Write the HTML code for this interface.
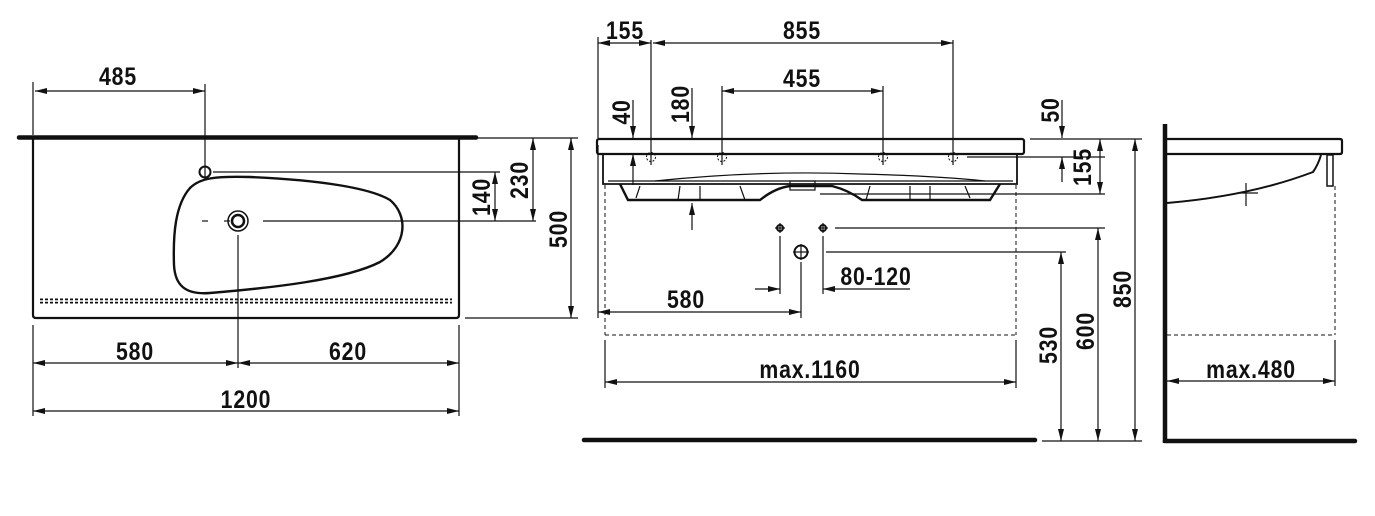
<!DOCTYPE html>
<html><head><meta charset="utf-8"><style>
html,body{margin:0;padding:0;background:#fff;}
svg{display:block;}
text{font-family:"Liberation Sans Narrow","Liberation Sans",sans-serif;font-weight:bold;font-size:25px;fill:#111;letter-spacing:1px;}
</style></head><body>
<svg width="1375" height="516" viewBox="0 0 1375 516" xmlns="http://www.w3.org/2000/svg">
<defs>
<marker id="a" viewBox="0 0 12 6" refX="12" refY="3" markerWidth="12" markerHeight="6" markerUnits="userSpaceOnUse" orient="auto-start-reverse"><path d="M0,0 L12,3 L0,6 z" fill="#111"/></marker>
</defs>
<g stroke="#111" fill="none" stroke-width="1.2">
<line x1="19" y1="137.5" x2="476" y2="137.5" stroke-width="4.5" stroke-linecap="round"/>
<path d="M33,139 V315 Q33,318 36,318 H456 Q459,318 459,315 V139" stroke-width="2.2"/>
<path d="M190,188 C200,178 215,176 250,177 C320,180 370,188 390,200 C408,215 408,245 380,262 C345,280 270,288 210,293 C185,295 175,285 174,265 C173,235 175,205 190,188 Z" stroke-width="2.4"/>
<circle cx="205" cy="172" r="5.5" stroke-width="2"/>
<circle cx="238" cy="221" r="10" stroke-width="1.5"/>
<circle cx="238" cy="221" r="6" stroke-width="2.5"/>
<path d="M40,301 H452" stroke-dasharray="3,2" stroke-width="5"/>
<path d="M40,301 H452" stroke="#fff" stroke-width="1.5"/>
<line x1="33" y1="82" x2="33" y2="135"/>
<line x1="205" y1="84" x2="205" y2="178"/>
<line x1="35" y1="91" x2="205" y2="91" marker-start="url(#a)" marker-end="url(#a)"/>
<line x1="213" y1="172" x2="500" y2="172"/>
<line x1="224" y1="221" x2="230" y2="221"/><line x1="202" y1="221" x2="208" y2="221"/>
<line x1="263" y1="221" x2="536" y2="221"/>
<line x1="238" y1="235" x2="238" y2="368"/>
<line x1="465" y1="138" x2="578" y2="138"/>
<line x1="465" y1="318" x2="578" y2="318"/>
<line x1="495" y1="172" x2="495" y2="221" marker-start="url(#a)" marker-end="url(#a)"/>
<line x1="533" y1="138" x2="533" y2="221" marker-start="url(#a)" marker-end="url(#a)"/>
<line x1="571" y1="138" x2="571" y2="318" marker-start="url(#a)" marker-end="url(#a)"/>
<line x1="33" y1="325" x2="33" y2="416"/>
<line x1="459" y1="325" x2="459" y2="416"/>
<line x1="33" y1="363" x2="238" y2="363" marker-start="url(#a)" marker-end="url(#a)"/>
<line x1="238" y1="363" x2="459" y2="363" marker-start="url(#a)" marker-end="url(#a)"/>
<line x1="33" y1="411" x2="459" y2="411" marker-start="url(#a)" marker-end="url(#a)"/>

<rect x="597" y="139" width="427" height="15" rx="2" stroke-width="2.2"/>
<path d="M603,154 V184 H1017 V154" stroke-width="1.8"/>
<line x1="608" y1="181" x2="1013" y2="181"/>
<path d="M620,184 L628,200 H760 Q775,188 790,186 L832,186 Q848,190 862,200 H990 L1000,184" stroke-width="2.4"/>
<path d="M655,181 Q760,170 860,174 Q940,176 985,181"/>
<path d="M640,186 L636,198 M680,186 L678,200 M700,186 L700,200 M740,186 L745,200 M870,186 L866,200 M910,186 L910,200 M930,186 L930,200 M965,186 L970,198"/>
<rect x="790" y="181" width="25" height="9"/>
<g stroke-width="1" stroke-dasharray="2,1.5">
<circle cx="651" cy="157" r="4.5"/><circle cx="722" cy="157" r="4.5"/><circle cx="883" cy="157" r="4.5"/><circle cx="953" cy="157" r="4.5"/>
</g>
<line x1="598" y1="37" x2="598" y2="138"/>
<line x1="651" y1="40" x2="651" y2="165"/>
<line x1="953" y1="40" x2="953" y2="165"/>
<line x1="722" y1="86" x2="722" y2="165"/>
<line x1="883" y1="86" x2="883" y2="165"/>
<line x1="598" y1="43" x2="651" y2="43" marker-start="url(#a)" marker-end="url(#a)"/>
<line x1="653" y1="43" x2="953" y2="43" marker-start="url(#a)" marker-end="url(#a)"/>
<line x1="722" y1="91" x2="883" y2="91" marker-start="url(#a)" marker-end="url(#a)"/>
<line x1="633" y1="100" x2="633" y2="138" marker-end="url(#a)"/>
<line x1="633" y1="185" x2="633" y2="154" marker-end="url(#a)"/>
<line x1="692" y1="88" x2="692" y2="138" marker-end="url(#a)"/>
<line x1="692" y1="230" x2="692" y2="203" marker-end="url(#a)"/>
<line x1="1062" y1="100" x2="1062" y2="138" marker-end="url(#a)"/>
<line x1="1062" y1="182" x2="1062" y2="157" marker-end="url(#a)"/>
<line x1="1030" y1="139" x2="1142" y2="139"/>
<line x1="967" y1="157" x2="1105" y2="157"/>
<line x1="820" y1="194" x2="1105" y2="194"/>
<line x1="1100" y1="139" x2="1100" y2="194" marker-start="url(#a)" marker-end="url(#a)"/>
<circle cx="780" cy="228" r="3" stroke-width="2"/><line x1="775" y1="228" x2="785" y2="228"/><line x1="780" y1="223" x2="780" y2="233"/>
<circle cx="823" cy="228" r="3" stroke-width="2"/><line x1="818" y1="228" x2="828" y2="228"/><line x1="823" y1="223" x2="823" y2="233"/>
<circle cx="801" cy="252" r="6.5" stroke-width="2"/><line x1="793" y1="252" x2="809" y2="252"/><line x1="801" y1="244" x2="801" y2="260"/>
<line x1="835" y1="228" x2="1105" y2="228"/>
<line x1="826" y1="252" x2="1066" y2="252"/>
<line x1="780" y1="236" x2="780" y2="294"/>
<line x1="823" y1="236" x2="823" y2="294"/>
<line x1="801" y1="262" x2="801" y2="318"/>
<line x1="755" y1="289" x2="780" y2="289" marker-end="url(#a)"/>
<line x1="910" y1="289" x2="823" y2="289" marker-end="url(#a)"/>
<line x1="598" y1="145" x2="598" y2="318"/>
<line x1="598" y1="312" x2="801" y2="312" marker-start="url(#a)" marker-end="url(#a)"/>
<g stroke-dasharray="4,3" stroke-width="1">
<line x1="605" y1="185" x2="605" y2="335"/>
<line x1="1016" y1="185" x2="1016" y2="335"/>
<line x1="605" y1="335" x2="1016" y2="335"/>
</g>
<line x1="605" y1="340" x2="605" y2="388"/>
<line x1="1016" y1="340" x2="1016" y2="388"/>
<line x1="605" y1="382" x2="1016" y2="382" marker-start="url(#a)" marker-end="url(#a)"/>
<line x1="584" y1="440" x2="1035" y2="440" stroke-width="4.5" stroke-linecap="round"/>
<line x1="1042" y1="441" x2="1142" y2="441"/>
<line x1="1061" y1="252" x2="1061" y2="441" marker-start="url(#a)" marker-end="url(#a)"/>
<line x1="1098" y1="228" x2="1098" y2="441" marker-start="url(#a)" marker-end="url(#a)"/>
<line x1="1135" y1="139" x2="1135" y2="441" marker-start="url(#a)" marker-end="url(#a)"/>

<line x1="1165" y1="124" x2="1165" y2="443" stroke-width="4.5"/>
<line x1="1165" y1="441" x2="1355" y2="441" stroke-width="4.5" stroke-linecap="round"/>
<path d="M1167,139 H1340 Q1342,139 1342,141 V152 Q1342,154 1340,154 H1167" stroke-width="2.2"/>
<path d="M1167,203 Q1250,196 1313,172 Q1318,165 1321,155" stroke-width="2"/>
<rect x="1327" y="155" width="6" height="31" stroke-width="1.5"/>
<line x1="1246" y1="183" x2="1246" y2="206"/><line x1="1240" y1="193" x2="1258" y2="193"/>
<g stroke-dasharray="4,3" stroke-width="1">
<line x1="1335" y1="186" x2="1335" y2="335"/>
<line x1="1167" y1="335" x2="1335" y2="335"/>
</g>
<line x1="1335" y1="340" x2="1335" y2="386"/>
<line x1="1167" y1="381" x2="1335" y2="381" marker-start="url(#a)" marker-end="url(#a)"/>
</g>

<g text-anchor="middle">
<text transform="translate(118,85) scale(0.85,1)">485</text>
<text transform="translate(135,360) scale(0.85,1)">580</text>
<text transform="translate(348,360) scale(0.85,1)">620</text>
<text transform="translate(246,408) scale(0.85,1)">1200</text>
<text transform="translate(490,197) rotate(-90) scale(0.85,1)">140</text>
<text transform="translate(528,180) rotate(-90) scale(0.85,1)">230</text>
<text transform="translate(567,229) rotate(-90) scale(0.85,1)">500</text>
<text transform="translate(625,39) scale(0.85,1)">155</text>
<text transform="translate(802,39) scale(0.85,1)">855</text>
<text transform="translate(802,87) scale(0.85,1)">455</text>
<text transform="translate(630,112) rotate(-90) scale(0.85,1)">40</text>
<text transform="translate(689,104) rotate(-90) scale(0.85,1)">180</text>
<text transform="translate(1059,110) rotate(-90) scale(0.85,1)">50</text>
<text transform="translate(1091,167) rotate(-90) scale(0.85,1)">155</text>
<text transform="translate(876,285) scale(0.85,1)">80-120</text>
<text transform="translate(686,308) scale(0.85,1)">580</text>
<text transform="translate(810,378) scale(0.85,1)">max.1160</text>
<text transform="translate(1057,345) rotate(-90) scale(0.85,1)">530</text>
<text transform="translate(1094,331) rotate(-90) scale(0.85,1)">600</text>
<text transform="translate(1131,289) rotate(-90) scale(0.85,1)">850</text>
<text transform="translate(1251,378) scale(0.85,1)">max.480</text>
</g>
</svg>
</body></html>
